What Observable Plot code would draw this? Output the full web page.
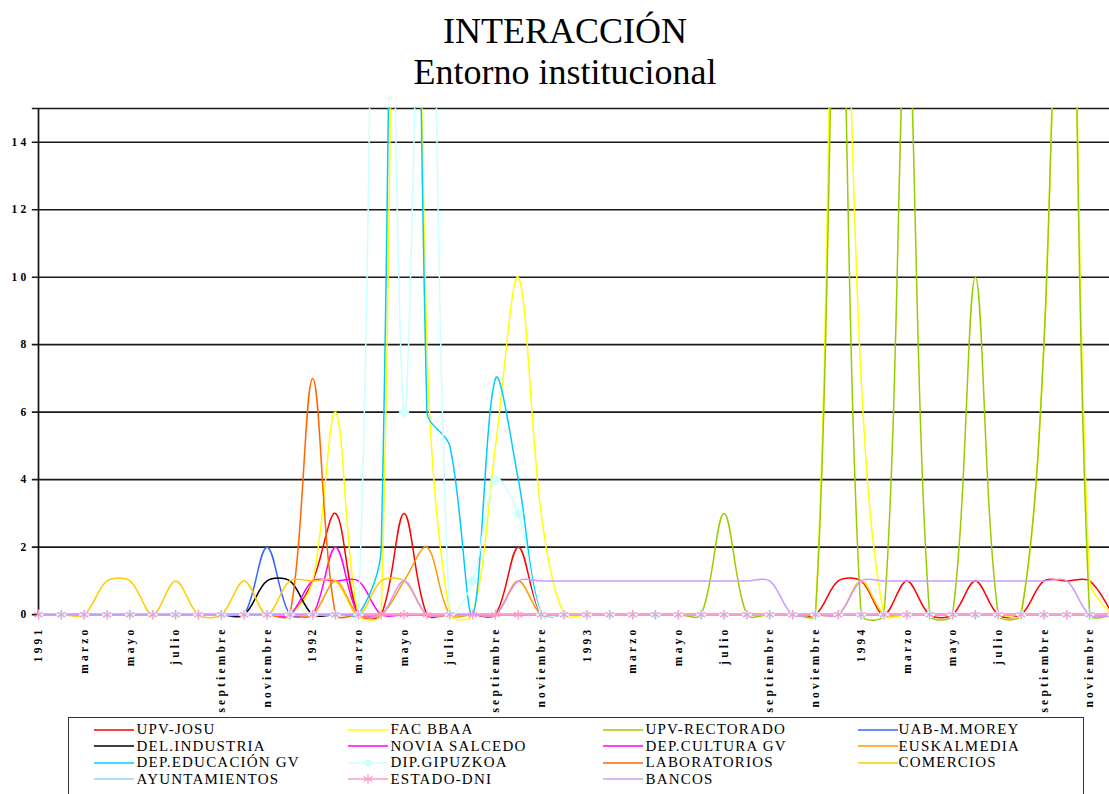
<!DOCTYPE html>
<html>
<head>
<meta charset="utf-8">
<script src="https://cdn.jsdelivr.net/npm/d3@7"></script>
<script src="https://cdn.jsdelivr.net/npm/@observablehq/plot@0.6"></script>
<style>
  body { margin: 0; background: #fff; width: 1109px; height: 794px; overflow: hidden; position: relative;
         font-family: "Liberation Serif", "Times New Roman", serif; color: #000; }
  #title { position: relative; height: 95px; }
  #title div { position: absolute; left: 0; width: 1130px; text-align: center; font-size: 36px; line-height: 36px; }
  #chart svg { display: block; }
  #legend { position: absolute; left: 68px; top: 717px; width: 1016px; height: 100px; border: 1.5px solid #333; box-sizing: border-box; }
  .lg-text { position: absolute; font-size: 15px; line-height: 16px; letter-spacing: 1.2px; white-space: nowrap; }
  .lg-svg { position: absolute; }
</style>
</head>
<body>
<div id="title">
  <div style="top:13px">INTERACCIÓN</div>
  <div style="top:54px">Entorno institucional</div>
</div>
<div id="chart"></div>
<div id="legend"></div>
<script>
// ---- Data (months Jan 1991 .. Dec 1994, one value per month) ----
const seriesNames = ["UPV-JOSU","FAC BBAA","UPV-RECTORADO","UAB-M.MOREY","DEL.INDUSTRIA","NOVIA SALCEDO",
  "DEP.CULTURA GV","EUSKALMEDIA","DEP.EDUCACIÓN GV","DIP.GIPUZKOA","LABORATORIOS","COMERCIOS",
  "AYUNTAMIENTOS","ESTADO-DNI","BANCOS"];
const seriesColors = ["#FF0000","#FFFF00","#99CC00","#3366FF","#000000","#FF00FF",
  "#FF00FF","#FF9900","#00CCFF","#CCFFFF","#FF6600","#FFCC00",
  "#99CCFF","#FF99CC","#CC99FF"];

const upvJosu = [0,0,0,0,0,0,0,0,0,0,0,0,  1,3,0,0,3,0,0,0,0,2,0,0,  0,0,0,0,0,0,0,0,0,0,0,1,  1,0,1,0,0,1,0,0,1,1,1,0];
const facBbaa = [0,0,0,0,0,0,0,0,0,0,0,0,  1,6,0,0,48,8,0,0,5,10,3,0,  0,0,0,0,0,0,0,0,0,0,0,25,  7,0,0,0,0,0,0,0,8,28,1,0];
const upvRectorado = [0,0,0,0,0,0,0,0,0,0,0,0,  0,0,0,0,0,0,0,0,0,0,0,0,  0,0,0,0,0,0,3,0,0,0,0,22,  0,0,18,0,0,10,0,0,8,28,0,0];
const uabMorey = [0,0,0,0,0,0,0,0,0,0,2,0,  0,0,0,0,0,0,0,0,0,0,0,0,  0,0,0,0,0,0,0,0,0,0,0,0,  0,0,0,0,0,0,0,0,0,0,0,0];
const delIndustria = [0,0,0,0,0,0,0,0,0,0,1,1,  0,0,0,0,0,0,0,0,0,0,0,0,  0,0,0,0,0,0,0,0,0,0,0,0,  0,0,0,0,0,0,0,0,0,0,0,0];
const noviaSalcedo = [0,0,0,0,0,0,0,0,0,0,0,0,  1,1,1,0,0,0,0,0,0,0,0,0,  0,0,0,0,0,0,0,0,0,0,0,0,  0,0,0,0,0,0,0,0,0,0,0,0];
const depCultura = [0,0,0,0,0,0,0,0,0,0,0,0,  0,2,0,0,0,0,0,0,0,0,0,0,  0,0,0,0,0,0,0,0,0,0,0,0,  0,0,0,0,0,0,0,0,0,0,0,0];
const euskalmedia = [0,0,0,0,0,0,0,0,0,0,0,0,  0,1,0,0,1,2,0,0,0,1,0,0,  0,0,0,0,0,0,0,0,0,0,0,0,  0,0,0,0,0,0,0,0,0,0,0,0];
const depEducacion = [0,0,0,0,0,0,0,0,0,0,0,0,  0,0,0,2,60,6,5,0,7,4,0,0,  0,0,0,0,0,0,0,0,0,0,0,0,  0,0,0,0,0,0,0,0,0,0,0,0];
const dipGipuzkoa = [0,0,0,0,0,0,0,0,0,0,0,0,  0,0,0,35,6,26,0,1,4,3,0,0,  0,0,0,0,0,0,0,0,0,0,0,0,  0,0,0,0,0,0,0,0,0,0,0,0];
const laboratorios = [0,0,0,0,0,0,0,0,0,0,0,0,  7,0,0,0,0,0,0,0,0,0,0,0,  0,0,0,0,0,0,0,0,0,0,0,0,  0,0,0,0,0,0,0,0,0,0,0,0];
const comercios = [0,0,0,1,1,0,1,0,0,1,0,1,  1,1,0,1,1,0,0,0,0,0,0,0,  0,0,0,0,0,0,0,0,0,0,0,0,  1,0,0,0,0,0,0,0,0,0,0,0];
const ayuntamientos = [0,0,0,0,0,0,0,0,0,0,0,0,  0,0,0,0,0,0,0,0,0,0,0,0,  0,0,0,0,0,0,0,0,0,0,0,0,  0,0,0,0,0,0,0,0,0,0,0,0];
const estadoDni = [0,0,0,0,0,0,0,0,0,0,0,0,  0,0,0,0,0,0,0,0,0,0,0,0,  0,0,0,0,0,0,0,0,0,0,0,0,  0,0,0,0,0,0,0,0,0,0,0,0];
const bancos = [0,0,0,0,0,0,0,0,0,0,0,0,  0,0,0,0,1,0,0,0,0,1,1,1,  1,1,1,1,1,1,1,1,1,0,0,0,  1,1,1,1,1,1,1,1,1,1,0,0];

const seriesValues = [upvJosu, facBbaa, upvRectorado, uabMorey, delIndustria, noviaSalcedo, depCultura,
  euskalmedia, depEducacion, dipGipuzkoa, laboratorios, comercios, ayuntamientos, estadoDni, bancos];

const xTickMonths = [0,2,4,6,8,10,12,14,16,18,20,22,24,26,28,30,32,34,36,38,40,42,44,46];
const xTickLabels = ["1991","marzo","mayo","julio","septiembre","noviembre",
  "1992","marzo","mayo","julio","septiembre","noviembre",
  "1993","marzo","mayo","julio","septiembre","noviembre",
  "1994","marzo","mayo","julio","septiembre","noviembre"];
const yTicks = [0,2,4,6,8,10,12,14];

// ---- Spreadsheet-style smoothed curve (Bezier, control arms scaled by chord lengths) ----
function SmoothCurve(context) { this._context = context; }
SmoothCurve.prototype = {
  areaStart() { this._line = 0; },
  areaEnd() { this._line = NaN; },
  lineStart() { this._x = []; this._y = []; },
  lineEnd() {
    const x = this._x, y = this._y, n = x.length, c = this._context;
    if (n) {
      this._line ? c.lineTo(x[0], y[0]) : c.moveTo(x[0], y[0]);
      if (n === 2) c.lineTo(x[1], y[1]);
      else if (n > 2) {
        const d = i => Math.hypot(x[i + 1] - x[i], y[i + 1] - y[i]) || 1e-9;
        for (let i = 0; i < n - 1; i++) {
          const d1 = d(i);
          let c1x = x[i], c1y = y[i], c2x = x[i + 1], c2y = y[i + 1];
          if (i > 0) {
            const f = d1 / (d(i - 1) + d1) / 3;
            c1x = x[i] + (x[i + 1] - x[i - 1]) * f; c1y = y[i] + (y[i + 1] - y[i - 1]) * f;
          }
          if (i < n - 2) {
            const f = d1 / (d1 + d(i + 1)) / 3;
            c2x = x[i + 1] - (x[i + 2] - x[i]) * f; c2y = y[i + 1] - (y[i + 2] - y[i]) * f;
          }
          c.bezierCurveTo(c1x, c1y, c2x, c2y, x[i + 1], y[i + 1]);
        }
      }
    }
    if (this._line || (this._line !== 0 && n === 1)) c.closePath();
    this._line = 1 - this._line;
    this._x = this._y = null;
  },
  point(x, y) { this._x.push(+x); this._y.push(+y); }
};
const curveSmooth = context => new SmoothCurve(context);

// ---- Build table ----
const rows = seriesNames.flatMap((name, s) => seriesValues[s].map((v, i) => ({serie: name, month: i, value: v})));
const xLabels = xTickMonths.map((m, i) => ({month: m, label: xTickLabels[i]}));
const font = '"Liberation Serif", "Times New Roman", serif';

const chart = Plot.plot({
  width: 1109, height: 620,
  marginLeft: 38, marginRight: 0, marginTop: 13, marginBottom: 89,
  x: {type: "linear", domain: [0, 46.87], axis: null},
  y: {domain: [-0.35, 15], axis: null},
  color: {domain: seriesNames, range: seriesColors},
  style: {fontFamily: font, letterSpacing: "3.2px", background: "transparent", overflow: "visible"},
  marks: [
    Plot.ruleY(yTicks.concat([15]), {y: d => d, x1: -0.27, x2: 46.87, stroke: "#1a1a1a", strokeWidth: 1.7}),
    Plot.ruleX([0], {y1: 0, y2: 15, stroke: "#111", strokeWidth: 1.7}),
    Plot.line(rows, {x: "month", y: "value", z: "serie", stroke: "serie", strokeWidth: 1.5,
      curve: curveSmooth, clip: true}),
    Plot.dot(rows.filter(d => d.serie === "DIP.GIPUZKOA"), {x: "month", y: "value", symbol: "diamond2",
      r: 4, fill: "#CCFFFF", stroke: "#CCFFFF", clip: true}),
    Plot.dot(rows.filter(d => d.serie === "ESTADO-DNI"), {x: "month", y: "value", symbol: "asterisk",
      r: 4.5, stroke: "#FF99CC", strokeWidth: 1.3}),
    Plot.text(yTicks, {x: 0, y: d => d, text: d => String(d), textAnchor: "end", dx: -9,
      fontWeight: "bold", fontSize: 11.5, fill: "#000"}),
    Plot.text(xLabels, {x: "month", y: -0.35, text: "label", rotate: -90, textAnchor: "end",
      fontWeight: "bold", fontSize: 11.5, fill: "#000"})
  ]
});
document.getElementById("chart").appendChild(chart);

// ---- Legend ----
const legend = document.getElementById("legend");
const colLine = [94, 348, 603, 858];
const colText = [137, 391, 646, 899];
const rowY = [730, 746.6, 763.2, 779.8];
seriesNames.forEach((name, i) => {
  const c = i % 4, r = Math.floor(i / 4);
  const ns = "http://www.w3.org/2000/svg";
  const svg = document.createElementNS(ns, "svg");
  svg.setAttribute("class", "lg-svg");
  svg.setAttribute("width", 42); svg.setAttribute("height", 12);
  svg.style.left = (colLine[c] - 68 - 1.5) + "px";
  svg.style.top = (rowY[r] - 6 - 717 - 1.5) + "px";
  const line = document.createElementNS(ns, "line");
  line.setAttribute("x1", 0); line.setAttribute("x2", 40); line.setAttribute("y1", 6); line.setAttribute("y2", 6);
  line.setAttribute("stroke", seriesColors[i]); line.setAttribute("stroke-width", 1.6);
  svg.appendChild(line);
  if (name === "DIP.GIPUZKOA") {
    const p = document.createElementNS(ns, "path");
    p.setAttribute("d", "M20,1.5L24.5,6L20,10.5L15.5,6Z");
    p.setAttribute("fill", seriesColors[i]);
    svg.appendChild(p);
  }
  if (name === "ESTADO-DNI") {
    const p = document.createElementNS(ns, "path");
    p.setAttribute("d", "M20,1V11M15.7,3.5L24.3,8.5M15.7,8.5L24.3,3.5");
    p.setAttribute("stroke", seriesColors[i]); p.setAttribute("stroke-width", 1.2);
    svg.appendChild(p);
  }
  legend.appendChild(svg);
  const t = document.createElement("div");
  t.className = "lg-text";
  t.textContent = name;
  t.style.left = (colText[c] - 68 - 1.5) + "px";
  t.style.top = (rowY[r] - 8.5 - 717 - 1.5) + "px";
  legend.appendChild(t);
});
</script>
</body>
</html>
